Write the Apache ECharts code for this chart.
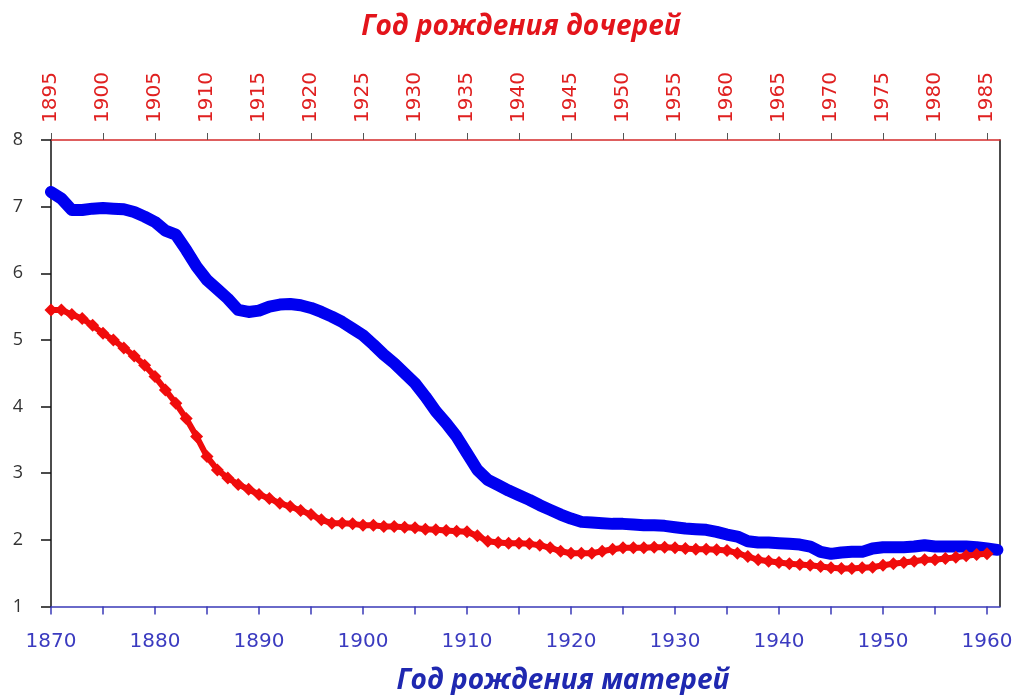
<!DOCTYPE html>
<html><head><meta charset="utf-8">
<script src="https://cdn.jsdelivr.net/npm/echarts@6/dist/echarts.min.js"></script>
<style>html,body{margin:0;padding:0;background:#fff}#c{width:1022px;height:695px}</style>
</head><body><div id="c"></div>
<script>
const motherYears = [];
for (let y = 1870; y <= 1961; y++) motherYears.push(y);
const mothersTFR = [7.22,7.12,6.95,6.95,6.97,6.98,6.97,6.96,6.92,6.85,
 6.77,6.64,6.58,6.35,6.10,5.90,5.76,5.62,5.45,5.42,
 5.44,5.50,5.53,5.54,5.52,5.48,5.42,5.35,5.27,5.17,
 5.07,4.93,4.78,4.65,4.50,4.35,4.15,3.93,3.75,3.55,
 3.30,3.05,2.90,2.82,2.74,2.67,2.60,2.52,2.45,2.38,
 2.32,2.27,2.26,2.25,2.24,2.24,2.23,2.22,2.22,2.21,
 2.19,2.17,2.16,2.15,2.12,2.08,2.05,1.98,1.96,1.96,
 1.95,1.94,1.93,1.90,1.82,1.79,1.81,1.82,1.82,1.87,
 1.89,1.89,1.89,1.90,1.92,1.90,1.90,1.90,1.90,1.89,
 1.87,1.85];
const daughtersTFR = [5.45,5.45,5.38,5.32,5.22,5.10,5.00,4.88,4.76,4.62,
 4.45,4.25,4.05,3.82,3.55,3.25,3.05,2.93,2.83,2.76,
 2.68,2.62,2.55,2.50,2.44,2.38,2.30,2.25,2.25,2.24,
 2.22,2.22,2.20,2.20,2.19,2.18,2.16,2.15,2.14,2.13,
 2.12,2.06,1.98,1.96,1.95,1.95,1.94,1.92,1.88,1.83,
 1.80,1.80,1.80,1.83,1.86,1.88,1.88,1.88,1.89,1.89,
 1.88,1.87,1.86,1.86,1.85,1.84,1.80,1.75,1.70,1.68,
 1.66,1.64,1.63,1.62,1.60,1.58,1.57,1.57,1.58,1.59,
 1.62,1.64,1.66,1.68,1.70,1.70,1.72,1.74,1.76,1.78,
 1.79];
const yearOffset = 25; // daughters born ~25 years after mothers
const bottomTitle = 'Год рождения матерей';
const topTitle = 'Год рождения дочерей';

const blueData = motherYears.map((y,i)=>[y, mothersTFR[i]]);
const redData = daughtersTFR.map((v,i)=>[motherYears[i], v]);

const chart = echarts.init(document.getElementById('c'));
const xMin = 1870, xMax = 1961.25;
chart.setOption({
  animation:false,
  grid:{left:51, right:22, top:140, bottom:88.5},
  graphic:[
    {type:'text', x:521, y:27, style:{text:topTitle, fill:'#e3141b', font:'italic bold 28px "Open Sans"', textAlign:'center', textVerticalAlign:'middle'}},
    {type:'text', x:563, y:681, style:{text:bottomTitle, fill:'#1f28b0', font:'italic bold 28px "Open Sans"', textAlign:'center', textVerticalAlign:'middle'}}
  ],
  xAxis:[
    {type:'value', position:'bottom', min:xMin, max:xMax, interval:5,
     axisLine:{show:true, onZero:false, lineStyle:{color:'#3a3ab8', width:1.5}},
     axisTick:{show:true, length:8, lineStyle:{color:'#3a3ab8', width:1.5}},
     splitLine:{show:false},
     axisLabel:{color:'#3b3bc0', fontFamily:'DejaVu Sans', fontSize:20, margin:25,
       formatter:v=> (Math.abs(v%10)<1e-6 ? String(v) : ''), showMaxLabel:false}},
    {type:'value', position:'top', min:xMin+yearOffset, max:xMax+yearOffset, interval:5,
     axisLine:{show:true, onZero:false, lineStyle:{color:'#d42a2a', width:1.5}},
     axisTick:{show:true, length:7, lineStyle:{color:'#555', width:1}},
     splitLine:{show:false},
     axisLabel:{color:'#e02020', fontFamily:'DejaVu Sans', fontSize:20, rotate:-90, margin:17,
       formatter:v=> (Math.abs(v%5)<1e-6 ? String(v) : ''), showMaxLabel:false}}
  ],
  yAxis:[
    {type:'value', min:1, max:8, interval:1, position:'left',
     axisLine:{show:true, lineStyle:{color:'#111', width:1.5}},
     axisTick:{show:true, length:10, lineStyle:{color:'#111', width:1.5}},
     splitLine:{show:false},
     axisLabel:{color:'#333', fontFamily:'Open Sans', fontSize:18, margin:28}},
    {type:'value', min:1, max:8, interval:1, position:'right',
     axisLine:{show:true, lineStyle:{color:'#111', width:1.5}},
     axisTick:{show:false}, axisLabel:{show:false}, splitLine:{show:false}}
  ],
  series:[
    {type:'line', name:'mothers', xAxisIndex:0, yAxisIndex:0, data:blueData,
     showSymbol:false, symbol:'none', lineStyle:{color:'#0000f0', width:12, cap:'round', join:'round'}, z:2},
    {type:'line', name:'daughters', xAxisIndex:0, yAxisIndex:0, data:redData,
     symbol:'diamond', symbolSize:13, showAllSymbol:true,
     itemStyle:{color:'#f00c0c'}, lineStyle:{color:'#f00c0c', width:6}, z:3}
  ]
});
</script></body></html>
